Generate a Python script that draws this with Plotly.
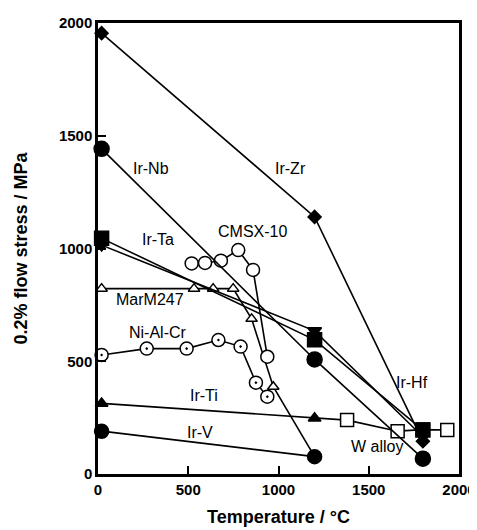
import plotly.graph_objects as go

# ---------------- data ----------------
zr_t = [20, 1200, 1800]
zr_s = [1955, 1140, 145]

nb_t = [20, 1200, 1800]
nb_s = [1442, 508, 68]

ta_t = [20, 1200, 1800]
ta_s = [1045, 595, 195]

hf_t = [20, 1200, 1800]
hf_s = [1015, 635, 165]

ti_t = [20, 1200, 1380]
ti_s = [313, 247, 239]

v_t = [20, 1200]
v_s = [190, 77]

cmsx_t = [519, 593, 681, 777, 859, 938]
cmsx_s = [934, 936, 946, 993, 905, 520]

mar_t = [20, 532, 638, 749, 851, 971, 1200]
mar_s = [822, 822, 822, 822, 688, 387, 77]

nialcr_t = [20, 270, 491, 667, 790, 875, 938]
nialcr_s = [528, 556, 556, 594, 565, 405, 343]

w_t = [1380, 1660, 1800, 1935]
w_s = [239, 190, 197, 195]

x_ticks = [0, 500, 1000, 1500, 2000]
y_ticks = [0, 500, 1000, 1500, 2000]

labels = [
    ("Ir-Nb", 295, 1357),
    ("Ir-Zr", 1064, 1357),
    ("CMSX-10", 855, 1075),
    ("Ir-Ta", 330, 1040),
    ("MarM247", 290, 772),
    ("Ni-Al-Cr", 335, 627),
    ("Ir-Ti", 585, 350),
    ("Ir-V", 565, 182),
    ("Ir-Hf", 1740, 404),
    ("W alloy", 1545, 124),
]

# ---------------- figure ----------------
fig = go.Figure()
LW = 1.6
FONT = "Liberation Sans, Arial, sans-serif"


def add(t, s, symbol, size, fill, name):
    fig.add_trace(go.Scatter(
        x=t, y=s, mode="lines+markers", name=name,
        line=dict(color="black", width=LW),
        marker=dict(symbol=symbol, size=size, color=fill,
                    line=dict(color="black", width=1.5)),
        showlegend=False, cliponaxis=False))


add(mar_t, mar_s, "triangle-up", 10, "white", "MarM247")
add(cmsx_t, cmsx_s, "circle", 13, "white", "CMSX-10")
add(nialcr_t, nialcr_s, "circle-dot", 13, "white", "Ni-Al-Cr")
add(ti_t, ti_s, "triangle-up", 11, "black", "Ir-Ti")
add(w_t, w_s, "square", 13, "white", "W alloy")
add(v_t, v_s, "circle", 14, "black", "Ir-V")
add(hf_t, hf_s, "triangle-down", 12, "black", "Ir-Hf")
add(ta_t, ta_s, "square", 14, "black", "Ir-Ta")
add(nb_t, nb_s, "circle", 15, "black", "Ir-Nb")
add(zr_t, zr_s, "diamond", 10, "black", "Ir-Zr")

for txt, x, y in labels:
    fig.add_annotation(x=x, y=y, text=txt, showarrow=False,
                       font=dict(family=FONT, size=16, color="black"))

# axis titles
fig.add_annotation(xref="paper", yref="paper", x=0.5, y=0, yshift=-43,
                   yanchor="middle", showarrow=False,
                   text="Temperature / °C",
                   font=dict(family=FONT, size=18, color="black", weight="bold"))
fig.add_annotation(xref="paper", yref="paper", x=0, y=0.5, xshift=-78,
                   xanchor="center", textangle=-90, showarrow=False,
                   text="0.2% flow stress / MPa",
                   font=dict(family=FONT, size=18, color="black", weight="bold"))

# the page body has an 8px default margin; size the figure so the plot area
# lands at x 98..459, y 23..474 inside the 477x530 window
fig.update_layout(
    width=469, height=522,
    margin=dict(l=90, r=18, t=15, b=56),
    plot_bgcolor="white", paper_bgcolor="white",
    font=dict(family=FONT, color="black"),
)
fig.update_xaxes(
    range=[0, 2000], tickvals=x_ticks, ticktext=[str(v) for v in x_ticks],
    ticks="inside", ticklen=8, tickwidth=1.5, tickcolor="black",
    showline=True, linewidth=2.5, linecolor="black", mirror=True,
    showgrid=False, zeroline=False, automargin=False,
    tickfont=dict(size=15, weight="bold"),
)
fig.update_yaxes(
    range=[0, 2000], tickvals=y_ticks, ticktext=[str(v) for v in y_ticks],
    ticks="inside", ticklen=8, tickwidth=1.5, tickcolor="black",
    showline=True, linewidth=2.5, linecolor="black", mirror=True,
    showgrid=False, zeroline=False, automargin=False,
    tickfont=dict(size=15, weight="bold"),
)

fig.write_html("out.html")
